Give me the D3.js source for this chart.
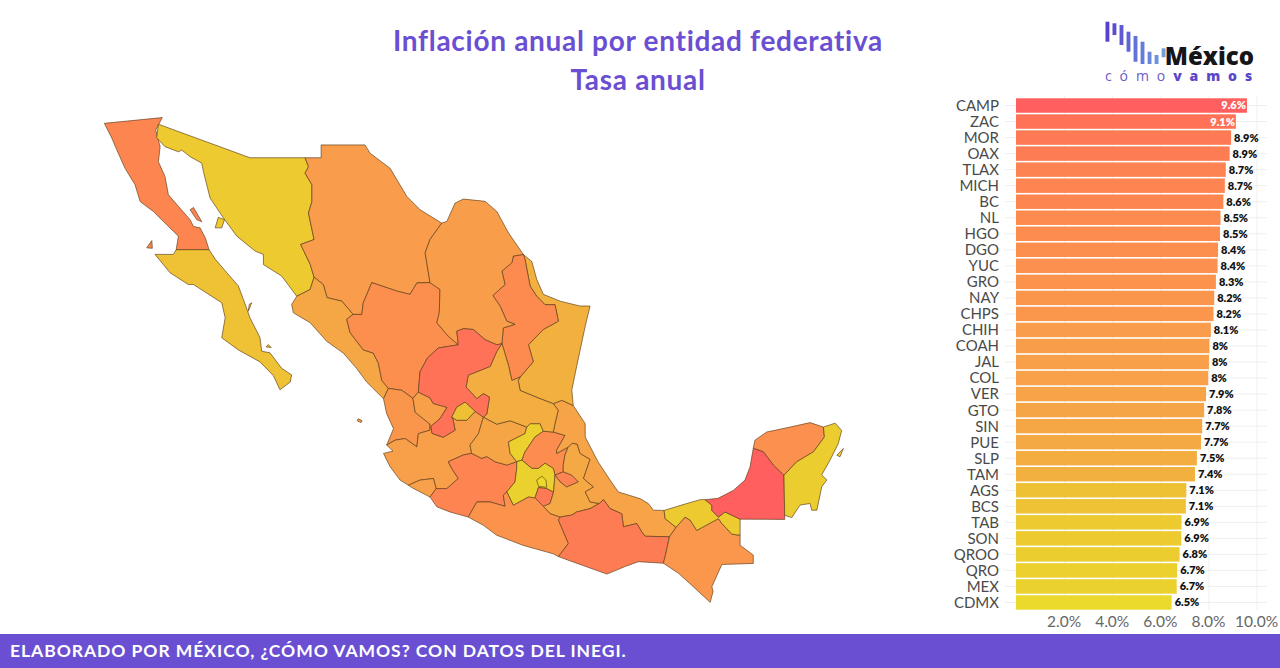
<!DOCTYPE html>
<html lang="es">
<head>
<meta charset="utf-8">
<title>Inflación anual por entidad federativa</title>
<script src="https://cdn.jsdelivr.net/npm/d3@7"></script>
<style>
  body { margin: 0; background: #fff; }
  svg { display: block; }
  .grid line { stroke: #efefef; }
  .grid path { display: none; }
  .state { stroke: #5b3a17; stroke-width: 0.65; stroke-linejoin: round; }
</style>
</head>
<body>
<svg id="chart" width="1280" height="668"></svg>
<script>
// Bar chart data
const stateCodes = ['CAMP','ZAC','MOR','OAX','TLAX','MICH','BC','NL','HGO','DGO','YUC','GRO','NAY','CHPS','CHIH','COAH','JAL','COL','VER','GTO','SIN','PUE','SLP','TAM','AGS','BCS','TAB','SON','QROO','QRO','MEX','CDMX'];
const inflation = [9.6,9.14,8.94,8.88,8.72,8.68,8.62,8.5,8.48,8.4,8.38,8.31,8.24,8.21,8.1,8.04,8.02,7.99,7.9,7.82,7.74,7.69,7.52,7.44,7.08,7.06,6.88,6.87,6.8,6.7,6.68,6.47];
const xTicks = [2,4,6,8,10];

// Colour stops, low to high inflation
const colorStops = [6.47,6.9,7.5,8.0,8.5,9.1,9.6];
const colorValues = ['#ebd92b','#ecc930','#f3ae40','#f8a04a','#fd8b4f','#ff7456','#ff5f5f'];

// Logo bars, in reference picture pixels from the logo box top
const logoTops = [21.7,23.3,25,31.7,36,41.7,51.7,55,48.3];
const logoBottoms = [41.7,35,45,51.7,61.7,64,64,64,57.3];

// Shared state borders, [lon, lat]
const bcGulf = [[-114.71,32.67],[-114.98,32.24],[-114.80,31.66],[-114.87,31.13],[-114.60,30.61],[-114.46,29.96],[-114.05,29.55],[-113.57,29.07],[-113.43,28.83],[-113.16,28.78],[-112.95,28.43],[-112.79,27.99]];
const bcPacific = [[-114.14,27.99],[-114.05,28.48],[-114.53,28.89],[-115.08,29.37],[-115.62,29.72],[-115.83,30.32],[-116.24,30.90],[-116.58,31.55],[-116.78,31.95],[-117.09,32.47]];
const bcsCoast = [[-112.79,27.99],[-112.54,27.65],[-112.06,27.15],[-111.59,26.67],[-111.38,26.17],[-111.11,25.49],[-110.70,24.76],[-110.63,24.25],[-110.29,24.19],[-109.81,23.61],[-109.40,23.36],[-109.46,23.09],[-109.88,22.80],[-110.15,23.33],[-110.70,23.85],[-111.59,24.30],[-112.27,24.75],[-112.13,25.50],[-112.27,26.05],[-113.43,26.72],[-113.64,26.72],[-114.39,27.15],[-115.01,27.82],[-114.26,27.82],[-114.14,27.99]];
const sonNorth = [[-114.87,32.44],[-111.11,31.27],[-108.85,31.27]];
const sonChih = [[-108.85,31.27],[-108.71,30.96],[-108.85,30.73],[-108.57,30.32],[-108.57,29.72],[-108.71,29.31],[-108.48,28.36],[-109.03,28.18],[-108.64,27.46],[-108.48,26.99]];
const sonSin = [[-108.48,26.99],[-108.64,26.54],[-109.19,26.29]];
const sonCoast = [[-109.19,26.29],[-109.81,27.03],[-110.56,27.45],[-110.56,27.82],[-110.90,27.94],[-111.65,28.48],[-112.20,29.13],[-112.75,29.85],[-113.02,30.78],[-113.09,31.08],[-113.57,31.31],[-113.91,31.54],[-114.05,31.48],[-114.60,31.66],[-114.94,31.97],[-114.87,32.44]];
const chihNorth = [[-108.85,31.27],[-108.19,31.27],[-108.19,31.72],[-106.39,31.72],[-106.18,31.43],[-105.36,30.90],[-104.67,29.90],[-104.13,29.43],[-103.24,28.95]];
const chihCoah = [[-103.24,28.95],[-103.72,28.36],[-103.92,27.88],[-103.72,26.79]];
const chihDgo = [[-103.72,26.79],[-104.26,26.78],[-104.54,26.36],[-105.08,26.48],[-106.11,26.79],[-106.46,26.05],[-106.52,25.62]];
const chihSin = [[-108.48,26.99],[-108.10,26.72],[-107.95,26.24],[-107.34,26.11],[-106.88,25.62]];
const dgoSin = [[-106.88,25.62],[-107.14,25.44],[-107.00,24.94],[-106.46,24.30],[-106.05,24.18],[-105.84,23.80],[-105.70,23.15],[-105.43,22.85]];
const sinCoast = [[-109.19,26.29],[-109.40,25.99],[-109.33,25.68],[-108.64,25.31],[-107.96,24.62],[-107.28,24.18],[-106.73,23.60],[-106.32,23.09],[-105.63,22.46]];
const dgoCoah = [[-103.72,26.79],[-103.31,26.54],[-103.34,25.68],[-103.44,25.31],[-102.97,24.81],[-102.56,24.49]];
const dgoZac = [[-102.56,24.49],[-103.38,24.37],[-103.83,23.99],[-104.13,23.48],[-104.20,22.71]];
const dgoNay = [[-105.43,22.85],[-104.88,22.78],[-104.42,22.47]];
const nayJal = [[-104.42,22.47],[-104.33,21.94],[-103.72,21.49],[-103.72,21.26],[-104.20,21.13],[-104.26,20.62],[-104.74,20.94],[-105.15,20.88],[-105.50,20.69]];
const nayCoast = [[-105.63,22.46],[-105.50,21.89],[-105.22,21.32],[-105.50,20.69]];
const jalCoast = [[-105.50,20.69],[-105.24,20.46],[-105.63,20.37],[-105.36,19.86],[-104.95,19.34],[-104.61,19.14]];
const jalCol = [[-104.61,19.14],[-104.13,19.34],[-103.58,19.40],[-103.47,19.01]];
const colCoast = [[-103.47,19.01],[-103.72,18.68],[-104.47,19.05],[-104.61,19.14]];
const jalMich = [[-103.47,19.01],[-103.03,19.01],[-102.56,19.40],[-102.83,19.79],[-102.97,20.05],[-102.35,20.31],[-102.01,20.37]];
const jalGto = [[-102.01,20.37],[-102.08,20.69],[-101.73,21.13],[-101.53,21.76]];
const jalZac = [[-104.20,22.71],[-103.72,22.49],[-103.59,22.28],[-103.02,22.13],[-103.31,21.70],[-103.68,21.41],[-103.64,21.14],[-103.18,20.99],[-102.69,21.26],[-102.77,21.64],[-102.83,21.76]];
const agsNorth = [[-101.87,21.98],[-102.28,22.33],[-102.62,22.14],[-102.83,21.76]];
const agsSouth = [[-102.83,21.76],[-102.62,21.64],[-102.21,21.64],[-101.87,21.98]];
const zacCoah = [[-102.56,24.49],[-102.62,25.00],[-102.35,25.09],[-101.94,25.06],[-101.46,24.68],[-100.98,24.49],[-100.77,24.53]];
const zacSlp = [[-100.77,24.53],[-100.98,24.24],[-101.25,23.68],[-102.15,23.35],[-102.24,22.90],[-101.80,22.46],[-101.53,22.65],[-101.28,22.52],[-101.39,21.87],[-101.53,21.76]];
const coahNorth = [[-103.24,28.95],[-103.03,29.01],[-102.69,29.67],[-102.35,29.81],[-101.46,29.73],[-100.98,29.37],[-100.50,28.60],[-99.89,27.82]];
const coahNl = [[-99.89,27.82],[-100.30,27.76],[-100.36,27.52],[-100.77,27.21],[-100.64,26.72],[-101.14,26.32],[-100.84,25.92],[-100.57,25.37],[-100.23,25.25],[-100.71,25.12],[-100.77,24.53]];
const nlTam = [[-99.89,27.82],[-99.82,27.64],[-99.61,26.66],[-99.34,26.29],[-99.00,25.98],[-98.59,25.98],[-98.45,25.37],[-99.07,25.06],[-99.68,24.49],[-99.48,23.86],[-100.02,23.28]];
const nlSlp = [[-100.02,23.28],[-100.36,23.15],[-100.50,23.72],[-100.71,24.36],[-100.77,24.53]];
const tamCoast = [[-99.89,27.82],[-99.54,27.56],[-99.34,26.91],[-99.07,26.36],[-98.38,26.11],[-97.56,25.93],[-97.15,25.93],[-97.35,25.18],[-97.70,23.68],[-97.90,22.79],[-97.84,22.20]];
const tamVer = [[-97.84,22.20],[-98.31,22.40],[-98.66,22.27]];
const tamSlp = [[-98.66,22.27],[-99.20,22.46],[-100.02,22.77],[-100.10,23.15],[-100.02,23.28]];
const slpVer = [[-98.66,22.27],[-98.46,22.02],[-98.59,21.51],[-98.66,21.19]];
const slpHgo = [[-98.66,21.19],[-99.07,21.22]];
const slpQro = [[-99.75,21.38],[-99.61,21.51],[-99.20,21.51],[-99.07,21.22]];
const slpGto = [[-101.53,21.76],[-100.98,21.49],[-100.43,21.62],[-99.75,21.38]];
const gtoQro = [[-99.75,21.38],[-99.82,21.13],[-100.50,20.81],[-100.43,20.37],[-100.16,20.05]];
const gtoMich = [[-100.16,20.05],[-100.57,19.92],[-101.05,20.05],[-101.39,20.25],[-101.60,20.18],[-102.01,20.37]];
const qroHgo = [[-99.95,20.11],[-99.82,20.43],[-99.41,21.00],[-99.07,21.22]];
const hgoVer = [[-98.66,21.19],[-98.18,21.06],[-98.52,20.50],[-98.52,20.37],[-98.05,20.61]];
const hgoPue = [[-98.05,20.61],[-98.18,20.31],[-98.25,19.92],[-98.25,19.66]];
const mexHgo = [[-99.95,20.11],[-99.54,19.79],[-99.27,19.79],[-99.00,19.99],[-98.66,19.79],[-98.59,19.53]];
const mexMor = [[-98.65,18.87],[-98.93,19.01],[-99.27,19.05],[-99.41,18.65]];
const mexGro = [[-99.41,18.65],[-99.68,18.68],[-100.30,18.36],[-100.57,18.88]];
const mexMich = [[-100.57,18.88],[-100.23,19.27],[-100.16,19.79],[-100.16,20.05]];
const morPue = [[-98.65,18.87],[-98.79,18.43],[-99.07,18.32]];
const groPue = [[-99.07,18.32],[-98.79,18.03],[-98.38,17.90]];
const tlaxSouth = [[-98.59,19.53],[-98.38,19.27],[-98.11,19.07],[-97.63,19.27],[-97.90,19.53],[-98.25,19.66]];
const pueVer = [[-96.77,18.43],[-97.15,18.49],[-97.35,18.88],[-97.01,19.07],[-97.42,19.40],[-97.15,20.14],[-97.56,20.37],[-97.68,20.73],[-97.89,20.76],[-98.05,20.61]];
const pueOax = [[-96.77,18.43],[-97.15,18.23],[-97.70,18.10],[-97.90,17.98],[-98.38,17.90]];
const verCoast = [[-97.84,22.20],[-97.35,21.51],[-97.35,21.00],[-96.82,20.04],[-96.33,19.34],[-95.99,18.88],[-95.10,18.62],[-94.76,18.43],[-94.55,18.17],[-94.11,18.16]];
const verTab = [[-94.11,18.16],[-94.07,17.84],[-93.62,17.50]];
const verOax = [[-93.89,17.13],[-94.89,17.15],[-95.03,17.32],[-95.23,17.65],[-95.78,17.52],[-95.85,18.03],[-96.33,18.23],[-96.60,18.58],[-96.77,18.43]];
const oaxChis = [[-93.89,17.13],[-94.07,16.35],[-94.14,16.09]];
const oaxCoast = [[-94.14,16.09],[-95.17,16.15],[-95.71,15.96],[-96.46,15.66],[-97.15,15.90],[-97.70,16.09],[-98.45,16.35]];
const groOax = [[-98.38,17.90],[-98.45,17.79],[-98.04,16.87],[-98.45,16.35]];
const groCoast = [[-102.15,17.90],[-101.53,17.58],[-100.98,17.19],[-99.89,16.79],[-98.66,16.46],[-98.45,16.35]];
const michGro = [[-102.15,17.90],[-101.80,18.49],[-101.25,18.49],[-100.64,18.32],[-100.71,18.75],[-100.57,18.88]];
const michCoast = [[-103.72,18.68],[-103.44,18.30],[-102.90,18.10],[-102.15,17.90]];
const chisTab = [[-93.62,17.50],[-93.25,17.90],[-93.04,17.78],[-92.77,17.38],[-91.88,17.84],[-91.74,17.65],[-91.33,17.23],[-90.99,17.19]];
const chisSouth = [[-90.99,17.19],[-90.99,16.80],[-90.45,16.41],[-90.45,16.08],[-91.74,16.04],[-92.15,15.16],[-92.10,14.97],[-92.22,14.54],[-92.91,15.16],[-93.52,15.69],[-94.14,16.09]];
const tabCoast = [[-94.11,18.16],[-93.18,18.43],[-92.63,18.58],[-92.43,18.58]];
const tabCamp = [[-92.43,18.58],[-92.15,18.36],[-92.15,18.16],[-91.88,17.90],[-91.61,18.10],[-90.99,17.82]];
const campCoast = [[-92.43,18.58],[-91.90,18.63],[-91.27,18.94],[-90.79,19.34],[-90.58,19.86],[-90.45,20.57]];
const campYuc = [[-90.45,20.57],[-90.04,20.44],[-89.62,19.92],[-89.19,19.53]];
const campQroo = [[-89.19,19.53],[-89.16,17.97],[-89.16,17.81]];
const yucCoast = [[-90.45,20.57],[-90.38,20.88],[-89.90,21.19],[-88.94,21.38],[-88.12,21.55],[-87.57,21.38]];
const yucQroo = [[-87.57,21.38],[-87.53,21.00],[-87.98,20.43],[-88.66,20.05],[-89.19,19.53]];
const qrooCoast = [[-87.57,21.38],[-87.09,21.53],[-86.82,21.25],[-86.96,20.75],[-87.30,20.11],[-87.64,19.54],[-87.43,19.34],[-87.64,19.08],[-87.84,18.17],[-88.05,18.17],[-88.12,18.43],[-88.53,18.37],[-88.87,17.88],[-89.16,17.97]];

// Shapes with one border of their own, and islands
const ringCdmx = [[-99.13,19.49],[-98.96,19.34],[-98.93,19.06],[-99.27,19.10],[-99.34,19.34]];
const ringTlax = [[-98.59,19.53],[-98.25,19.66],[-97.90,19.53],[-97.63,19.27],[-98.11,19.07],[-98.38,19.27]];
const islandCedros = [[-115.35,28.06],[-115.14,28.32],[-115.12,28.04]];
const islandAngel = [[-113.57,29.43],[-113.43,29.51],[-113.09,29.00],[-113.29,29.07]];
const islandTiburon = [[-112.54,28.78],[-112.41,29.16],[-112.16,29.07],[-112.27,28.78]];
const islandMarias = [[-106.67,21.70],[-106.51,21.62],[-106.55,21.55],[-106.71,21.62]];
const islandCozumel = [[-87.02,20.30],[-86.75,20.56],[-86.89,20.24]];
const islandCarmen = [[-111.14,25.99],[-111.04,26.05],[-111.18,25.74]];
const islandEspiritu = [[-110.36,24.50],[-110.24,24.39],[-110.45,24.41]];

const rev = a => a.slice().reverse();

const shapes = [
  { code: 'BC', rings: [[...bcGulf, ...bcPacific], islandCedros, islandAngel] },
  { code: 'BCS', rings: [bcsCoast, islandCarmen, islandEspiritu] },
  { code: 'SON', rings: [[...sonNorth, ...sonChih, ...sonSin, ...sonCoast], islandTiburon] },
  { code: 'CHIH', rings: [[...chihNorth, ...chihCoah, ...chihDgo, ...rev(chihSin), ...rev(sonChih)]] },
  { code: 'SIN', rings: [[...sonSin, ...sinCoast, ...rev(dgoSin), ...rev(chihSin)]] },
  { code: 'DGO', rings: [[...rev(chihDgo), ...dgoCoah, ...dgoZac, ...rev(dgoNay), ...rev(dgoSin)]] },
  { code: 'NAY', rings: [[...dgoNay, ...nayJal, ...rev(nayCoast)], islandMarias] },
  { code: 'JAL', rings: [[...jalZac, ...agsSouth, [-101.53,21.76], ...rev(jalGto), ...rev(jalMich), ...rev(jalCol), ...rev(jalCoast), ...rev(nayJal)]] },
  { code: 'COL', rings: [[...jalCol, ...colCoast]] },
  { code: 'MICH', rings: [[...jalMich, ...rev(gtoMich), ...rev(mexMich), ...rev(michGro), ...rev(michCoast)]] },
  { code: 'GTO', rings: [[...slpGto, ...gtoQro, ...gtoMich, ...jalGto]] },
  { code: 'QRO', rings: [[...slpQro, ...rev(qroHgo), ...rev(gtoQro)]] },
  { code: 'HGO', rings: [[...hgoVer, ...hgoPue, ...rev(mexHgo), ...qroHgo, ...rev(slpHgo)]] },
  { code: 'MEX', rings: [[...mexHgo, ...mexMor, ...mexGro, ...mexMich, [-99.95,20.11]]] },
  { code: 'CDMX', rings: [ringCdmx] },
  { code: 'MOR', rings: [[...rev(mexMor), ...morPue]] },
  { code: 'TLAX', rings: [ringTlax] },
  { code: 'PUE', rings: [[...rev(hgoPue), ...rev(pueVer), ...pueOax, ...rev(groPue), ...rev(morPue), ...tlaxSouth]] },
  { code: 'VER', rings: [[...verCoast, ...verTab, ...verOax, ...pueVer, ...rev(hgoVer), ...rev(slpVer), ...rev(tamVer)]] },
  { code: 'TAM', rings: [[...tamCoast, ...tamVer, ...tamSlp, ...rev(nlTam)]] },
  { code: 'NL', rings: [[...nlTam, ...nlSlp, ...rev(coahNl)]] },
  { code: 'COAH', rings: [[...coahNorth, ...coahNl, ...rev(zacCoah), ...rev(dgoCoah), ...rev(chihCoah)]] },
  { code: 'SLP', rings: [[...rev(nlSlp), ...rev(tamSlp), ...slpVer, ...slpHgo, ...rev(slpQro), ...rev(slpGto), ...rev(zacSlp)]] },
  { code: 'ZAC', rings: [[...rev(dgoZac), ...zacCoah, ...zacSlp, ...agsNorth, ...rev(jalZac)]] },
  { code: 'AGS', rings: [[...agsNorth, ...agsSouth]] },
  { code: 'GRO', rings: [[...michGro, ...rev(mexGro), ...groPue, ...groOax, ...rev(groCoast)]] },
  { code: 'OAX', rings: [[...rev(pueOax), ...rev(verOax), ...oaxChis, ...oaxCoast, ...rev(groOax)]] },
  { code: 'CHPS', rings: [[[-93.89,17.13], ...chisTab, ...chisSouth, ...rev(oaxChis)]] },
  { code: 'TAB', rings: [[...tabCoast, ...tabCamp, [-90.99,17.19], ...rev(chisTab), ...rev(verTab)]] },
  { code: 'CAMP', rings: [[...campCoast, ...campYuc, ...campQroo, ...rev(tabCamp)]] },
  { code: 'YUC', rings: [[...yucCoast, ...yucQroo, ...rev(campYuc)]] },
  { code: 'QROO', rings: [[...qrooCoast, ...rev(yucQroo)], islandCozumel] }
];

const purple = '#6a4fd2';
const svg = d3.select('#chart');
const valueByCode = new Map(stateCodes.map((c, i) => [c, inflation[i]]));
const color = d3.scaleLinear().domain(colorStops).range(colorValues);

// Title
svg.append('text').attr('x', 638).attr('y', 51)
  .attr('text-anchor', 'middle')
  .style('font', '700 28px Lato')
  .style('letter-spacing', '0.7px')
  .attr('fill', purple)
  .text('Inflación anual por entidad federativa');
svg.append('text').attr('x', 638).attr('y', 90)
  .attr('text-anchor', 'middle')
  .style('font', '700 28px Lato')
  .style('letter-spacing', '0.7px')
  .attr('fill', purple)
  .text('Tasa anual');

// Map
const projection = d3.geoMercator().scale(1395.7).translate([2956.6, 960.4]);
const line = d3.line(d => projection(d)[0], d => projection(d)[1]);

svg.append('g').selectAll('path')
  .data(shapes)
  .join('path')
  .attr('class', 'state')
  .attr('d', d => d.rings.map(r => line(r) + 'Z').join(''))
  .attr('fill', d => color(valueByCode.get(d.code)));

// Bars
const x = d3.scaleLinear().domain([0, 10.6]).range([1016, 1271]);
const y = d3.scaleBand().domain(stateCodes).range([97.5, 610.5]).paddingInner(0.1).paddingOuter(0.05);

svg.append('g').attr('class', 'grid')
  .attr('transform', 'translate(0,610)')
  .call(d3.axisBottom(x).tickValues(xTicks).tickSize(-514).tickFormat(''));

svg.append('g').attr('class', 'grid')
  .attr('transform', 'translate(1005,0)')
  .call(d3.axisRight(y).tickSize(262).tickFormat(''));

svg.append('g').selectAll('rect')
  .data(stateCodes)
  .join('rect')
  .attr('x', x(0))
  .attr('y', d => y(d))
  .attr('width', d => x(valueByCode.get(d)) - x(0))
  .attr('height', y.bandwidth())
  .attr('fill', d => color(valueByCode.get(d)));

// Category labels
svg.append('g').selectAll('text')
  .data(stateCodes)
  .join('text')
  .attr('x', 999)
  .attr('y', d => y(d) + y.bandwidth() / 2)
  .attr('dy', '0.36em')
  .attr('text-anchor', 'end')
  .style('font', '400 15px Lato')
  .attr('fill', '#4a4a4a')
  .text(d => d);

// Value labels, inside the bar for the two longest
svg.append('g').selectAll('text')
  .data(stateCodes)
  .join('text')
  .attr('x', d => valueByCode.get(d) > 9 ? x(valueByCode.get(d)) - 1 : x(valueByCode.get(d)) + 3)
  .attr('y', d => y(d) + y.bandwidth() / 2)
  .attr('dy', '0.36em')
  .attr('text-anchor', d => valueByCode.get(d) > 9 ? 'end' : 'start')
  .style('font', '800 11px Lato')
  .attr('fill', d => valueByCode.get(d) > 9 ? '#fff' : '#111')
  .text(d => `${+valueByCode.get(d).toFixed(1)}%`);

// Tick labels
svg.append('g').selectAll('text')
  .data(xTicks)
  .join('text')
  .attr('x', d => x(d))
  .attr('y', 627)
  .attr('text-anchor', 'middle')
  .style('font', '400 15.5px Lato')
  .attr('fill', '#666')
  .text(d => d.toFixed(1) + '%');

// Logo
const logoX = d3.scaleBand().domain(d3.range(logoTops.length)).range([1105.5, 1165.5]).paddingInner(0.45);
const logoColor = d3.interpolateRgb('#5840d0', '#6ea0e0');
svg.append('g').selectAll('rect')
  .data(logoTops)
  .join('rect')
  .attr('x', (d, i) => logoX(i))
  .attr('y', d => d)
  .attr('width', logoX.bandwidth())
  .attr('height', (d, i) => logoBottoms[i] - d)
  .attr('fill', (d, i) => logoColor(i / (logoTops.length - 1)));
svg.append('text').attr('x', 1254).attr('y', 65)
  .attr('text-anchor', 'end')
  .style('font', '800 24px "Open Sans"')
  .attr('fill', '#15151a')
  .text('México');
const logoLine = svg.append('text').attr('x', 1105).attr('y', 81)
  .style('font', '400 14px "Open Sans"')
  .style('letter-spacing', '7.9px');
logoLine.append('tspan').attr('fill', '#6a5cc8').text('cómo');
logoLine.append('tspan').attr('fill', '#5a48c8').style('font-weight', '800').text('vamos');

// Footer
svg.append('rect').attr('x', 0).attr('y', 634).attr('width', 1280).attr('height', 34).attr('fill', purple);
svg.append('text').attr('x', 10).attr('y', 657)
  .style('font', '700 17.5px Lato')
  .style('letter-spacing', '0.95px')
  .attr('fill', '#fff')
  .text('ELABORADO POR MÉXICO, ¿CÓMO VAMOS? CON DATOS DEL INEGI.');
</script>
</body>
</html>
